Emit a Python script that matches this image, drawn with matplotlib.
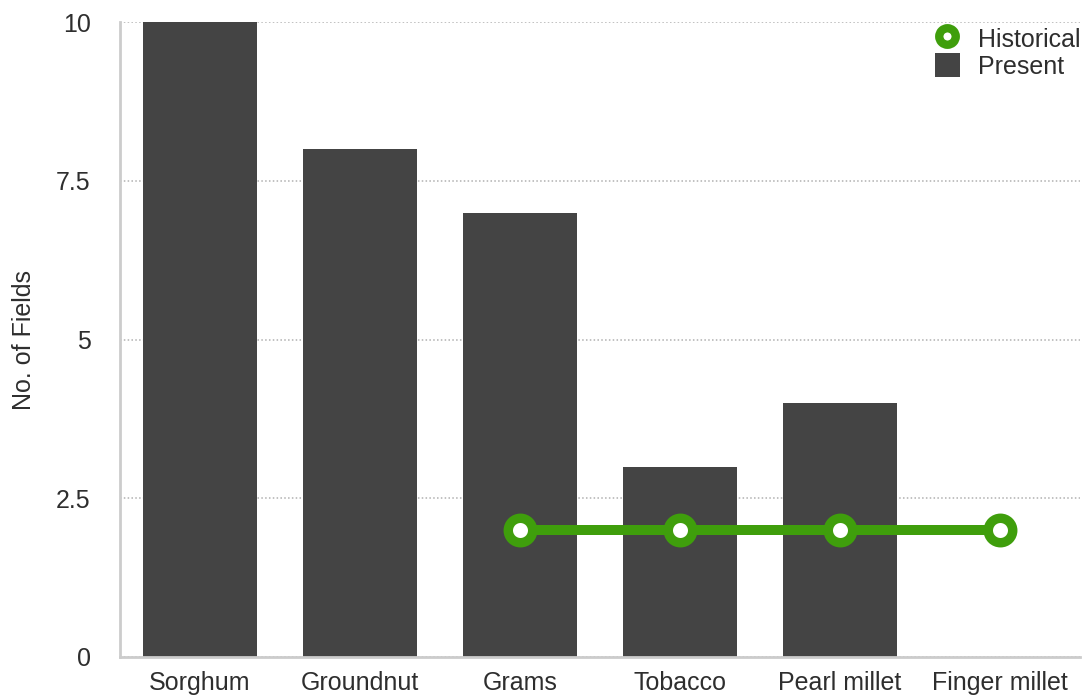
import numpy as np
import matplotlib
matplotlib.use("Agg")
import matplotlib.pyplot as plt
from matplotlib.lines import Line2D
from matplotlib.patches import Patch

# Crop data
crops = ["Sorghum", "Groundnut", "Grams", "Tobacco", "Pearl millet", "Finger millet"]
present = [10, 8, 7, 3, 4, 0]
historical = [np.nan, np.nan, 2, 2, 2, 2]
y_ticks = [0, 2.5, 5, 7.5, 10]
y_tick_labels = ["0", "2.5", "5", "7.5", "10"]

BAR_COLOR = "#444444"
GREEN = "#3f9e0c"
TEXT = "#2e2e2e"
AXIS = "#cccccc"
FS = 18

plt.rcParams["font.family"] = ["Liberation Sans", "DejaVu Sans"]

fig = plt.figure(figsize=(10.84, 6.98), dpi=100)
ax = fig.add_axes([120 / 1084, 41 / 698, 960 / 1084, 635 / 698])

x = np.arange(len(crops))
ax.bar(x, present, width=0.71, color=BAR_COLOR, zorder=2)
ax.plot(x, historical, color=GREEN, lw=7.2, marker="o", ms=17.6,
        mfc="white", mec=GREEN, mew=6.8, zorder=3)

ax.set_xlim(-0.5, len(crops) - 0.5)
ax.set_ylim(0, 10)
ax.set_yticks(y_ticks)
ax.set_yticklabels(y_tick_labels)
ax.set_xticks(x)
ax.set_xticklabels(crops)
ax.tick_params(axis="y", length=0, pad=21, labelsize=FS, labelcolor=TEXT)
ax.tick_params(axis="x", length=0, pad=10, labelsize=FS, labelcolor=TEXT)

ax.grid(axis="y", linestyle=(0, (1, 1.5)), color="#b0b0b0", lw=1.1, zorder=0)
ax.set_axisbelow(True)
for side in ("top", "right"):
    ax.spines[side].set_visible(False)
for side in ("left", "bottom"):
    ax.spines[side].set_color(AXIS)
    ax.spines[side].set_linewidth(2)
    ax.spines[side].set_zorder(4)

ax.set_ylabel("No. of Fields", fontsize=FS, color=TEXT)
ax.yaxis.set_label_coords(-0.088, 0.5)

handles = [
    Line2D([], [], color=GREEN, lw=0, marker="o", ms=11.9, mfc="white",
           mec=GREEN, mew=6.0),
    Patch(facecolor=BAR_COLOR, edgecolor="none"),
]
leg = ax.legend(handles, ["Historical", "Present"], loc="upper right",
                bbox_to_anchor=(1.0, 0.994), frameon=False, fontsize=FS,
                handlelength=1.0, handleheight=1.15, handletextpad=0.72,
                labelspacing=0.04, borderaxespad=0.0, borderpad=0.0)
for t in leg.get_texts():
    t.set_color(TEXT)

fig.savefig("out.png", dpi=100, facecolor="white")
